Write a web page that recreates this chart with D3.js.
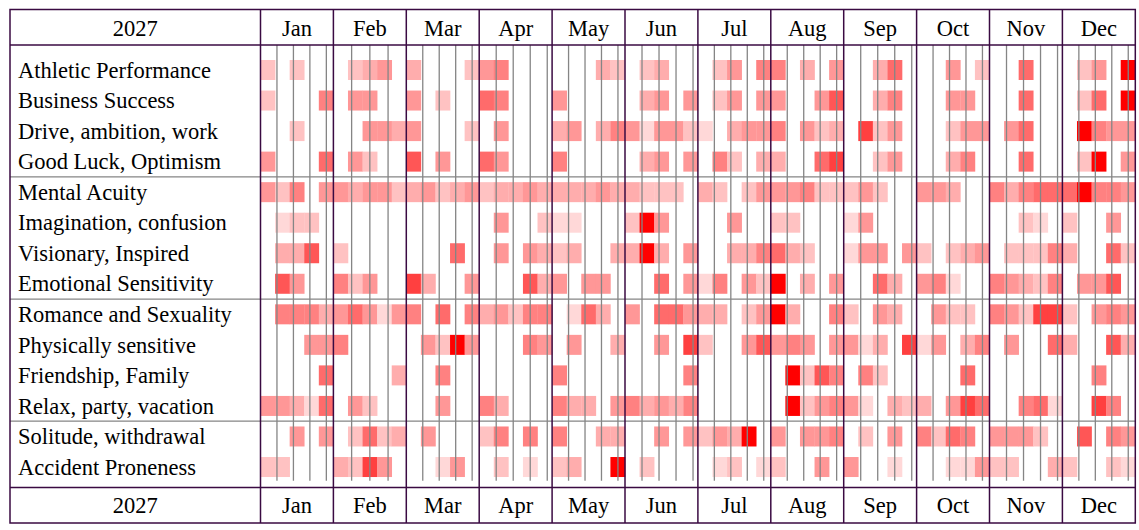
<!DOCTYPE html>
<html>
<head>
<meta charset="utf-8">
<script src="https://cdn.jsdelivr.net/npm/d3@7"></script>
<style>
  body { margin: 0; background: white; }
  svg { display: block; }
</style>
</head>
<body>
<script>
/* DATA */

var year = 2027;
var months = ['Jan', 'Feb', 'Mar', 'Apr', 'May', 'Jun', 'Jul', 'Aug', 'Sep', 'Oct', 'Nov', 'Dec'];
var categories = [
    'Athletic Performance', 'Business Success', 'Drive, ambition, work', 'Good Luck, Optimism',
    'Mental Acuity', 'Imagination, confusion', 'Visionary, Inspired', 'Emotional Sensitivity',
    'Romance and Sexuality', 'Physically sensitive', 'Friendship, Family', 'Relax, party, vacation',
    'Solitude, withdrawal', 'Accident Proneness'
];
// a separator line is drawn under these rows
var groupEnds = ['Good Luck, Optimism', 'Emotional Sensitivity', 'Relax, party, vacation'];

// intensity 0 (none) .. 9 (strongest), 5 slots per month
var levels = [
    // Athletic Performance
    [2,0,2,0,0, 0,2,3,4,0, 3,0,0,0,2, 4,5,0,0,0, 0,0,0,3,2, 0,2,3,0,0, 0,2,4,0,5, 5,0,3,0,4, 0,0,3,6,0, 0,0,4,0,2, 0,0,6,0,0, 0,2,4,0,9],
    // Business Success
    [2,0,0,0,5, 0,4,4,0,0, 4,0,2,0,0, 6,5,0,0,0, 4,0,0,0,0, 0,3,4,0,4, 0,2,4,0,4, 4,0,0,4,7, 0,0,3,5,0, 0,0,4,4,0, 0,0,6,0,0, 0,2,6,0,9],
    // Drive, ambition, work
    [0,0,2,0,0, 0,0,4,4,3, 4,0,0,0,2, 0,4,0,0,0, 3,4,0,3,5, 4,1,4,4,2, 1,0,3,4,4, 5,0,4,2,3, 0,8,2,4,0, 0,0,2,4,4, 0,4,6,0,0, 0,9,5,4,4],
    // Good Luck, Optimism
    [4,0,0,0,6, 0,4,2,0,0, 7,0,4,0,0, 6,4,0,0,0, 5,0,0,0,0, 0,3,4,0,4, 0,5,2,0,3, 3,0,0,6,8, 0,0,2,4,0, 0,0,3,5,0, 0,0,6,0,0, 0,2,9,0,4],
    // Mental Acuity
    [4,2,5,0,4, 4,3,4,4,2, 3,4,2,3,4, 2,3,3,4,3, 3,3,3,4,3, 3,2,2,2,0, 3,2,0,2,4, 4,4,5,2,2, 2,4,2,0,0, 4,4,3,0,0, 5,3,5,6,6, 6,9,5,5,4],
    // Imagination, confusion
    [0,1,2,2,0, 0,0,0,0,0, 0,0,0,0,0, 0,4,0,0,2, 1,1,0,0,0, 2,9,4,0,0, 0,0,4,0,0, 2,2,0,0,0, 1,4,0,0,0, 0,0,0,0,0, 0,0,2,1,0, 2,0,0,4,0],
    // Visionary, Inspired
    [0,3,3,7,0, 2,0,0,0,0, 0,0,0,6,0, 0,4,0,4,3, 2,3,0,0,3, 3,9,3,0,4, 0,0,3,3,5, 6,3,2,0,0, 1,4,4,0,4, 2,0,2,3,4, 0,2,2,2,5, 3,0,0,6,2],
    // Emotional Sensitivity
    [0,7,4,0,0, 5,2,4,0,0, 8,3,0,0,4, 0,0,0,7,3, 4,0,4,4,0, 0,0,6,0,4, 1,5,0,4,2, 9,0,3,0,4, 0,0,6,3,0, 4,5,1,0,0, 5,4,3,2,5, 0,4,4,7,0],
    // Romance and Sexuality
    [0,5,5,5,3, 4,6,4,1,4, 5,0,6,0,5, 3,4,2,5,5, 0,1,6,3,0, 4,0,6,6,4, 3,3,0,2,4, 9,3,0,0,5, 2,0,4,3,0, 0,4,2,2,0, 5,4,2,8,8, 2,0,4,5,4],
    // Physically sensitive
    [0,0,0,4,4, 5,0,0,0,0, 0,4,2,9,4, 0,0,0,5,4, 0,4,0,0,3, 0,0,4,0,8, 2,0,0,4,7, 4,5,4,0,4, 4,1,3,0,8, 1,4,0,3,5, 0,4,0,0,6, 3,0,0,7,3],
    // Friendship, Family
    [0,0,0,0,6, 0,0,0,0,3, 0,0,5,0,0, 0,0,0,0,0, 5,0,0,0,0, 0,0,0,0,5, 0,0,0,0,0, 0,9,2,7,5, 0,5,2,0,0, 0,0,0,6,0, 0,0,0,0,0, 0,0,5,0,0],
    // Relax, party, vacation
    [4,4,3,1,6, 0,4,2,0,0, 0,0,4,0,0, 5,3,0,0,0, 5,3,3,0,4, 5,3,4,3,5, 0,0,0,0,0, 0,9,2,4,5, 4,1,0,3,2, 3,0,4,8,6, 0,0,5,6,1, 0,0,8,5,0],
    // Solitude, withdrawal
    [0,0,4,0,4, 0,2,6,2,3, 0,4,0,0,0, 2,5,0,5,0, 5,0,0,3,3, 0,0,4,0,4, 2,4,3,9,0, 4,0,4,4,5, 0,2,0,4,0, 5,2,6,5,0, 4,4,4,2,0, 0,7,0,5,4],
    // Accident Proneness
    [2,2,0,0,0, 3,2,8,4,0, 0,0,1,4,0, 0,2,0,1,0, 2,3,0,0,9, 0,2,0,0,0, 0,1,2,0,1, 2,0,0,4,0, 4,0,0,1,0, 0,0,1,1,4, 2,2,0,0,3, 2,0,0,2,1]
];

/* STYLE */

var width = 1139;
var height = 530;
var font = '"Liberation Serif", "Times New Roman", serif';
var fontSize = '22.5px';
var frameColor = '#3a0a42';
var weekColor = '#858585';

// note: "top" is reserved on window, so frame edges get their own names
var frameLeft = 10, frameRight = 1135.3, frameTop = 9.5, frameBottom = 523;
var labelRight = 260.5;
var headerBottom = 45;
var footerTop = 487.5;
var weekLineEnd = 480.7;
var slotsPerMonth = 5;

/* SCALES */

var x = d3.scaleBand()
    .domain(months)
    .range([labelRight, frameRight]);

var slot = d3.scaleBand()
    .domain(d3.range(slotsPerMonth))
    .range([0, x.bandwidth()]);

var y = d3.scaleBand()
    .domain(categories)
    .range([54.73, 54.73 + 30.54 * categories.length])
    .paddingInner(0.345)
    .paddingOuter(0.1725);

var color = d3.scaleLinear()
    .domain([1, 8, 9])
    .range(['#ffd8d8', '#ff4040', '#ff0000'])
    .clamp(true);

var daysIn = months.map((m, i) => d3.timeDay.count(new Date(year, i, 1), new Date(year, i + 1, 1)));

/* DRAW */

var svg = d3.select('body').append('svg')
    .attr('width', width)
    .attr('height', height);

svg.append('rect')
    .attr('width', width)
    .attr('height', height)
    .attr('fill', 'white');

// cells
var cells = [];
levels.forEach((row, r) => {
    row.forEach((v, c) => {
        if (v > 0) cells.push({cat: categories[r], month: months[Math.floor(c / slotsPerMonth)], slot: c % slotsPerMonth, v: v});
    });
});

svg.append('g').attr('class', 'cells')
  .selectAll('rect')
  .data(cells)
  .join('rect')
    .attr('x', d => x(d.month) + slot(d.slot))
    .attr('y', d => y(d.cat))
    .attr('width', slot.bandwidth() + 0.3)
    .attr('height', y.bandwidth())
    .attr('fill', d => color(d.v));

// week lines (days 8, 15, 22, 29 of each month)
var weeks = [];
months.forEach((m, i) => {
    var day = d3.scaleLinear().domain([1, daysIn[i] + 1]).range([x(m), x(m) + x.bandwidth()]);
    for (var d = 8; d <= daysIn[i]; d += 7) weeks.push(day(d));
});

svg.append('g').attr('class', 'weeks')
  .selectAll('line')
  .data(weeks)
  .join('line')
    .attr('x1', d => d).attr('x2', d => d)
    .attr('y1', headerBottom).attr('y2', weekLineEnd)
    .attr('stroke', weekColor)
    .attr('stroke-width', 1.3);

// group separators
var sepY = cat => y(cat) + y.bandwidth() + (y.step() - y.bandwidth()) / 2;
svg.append('g').attr('class', 'groups')
  .selectAll('line')
  .data(groupEnds)
  .join('line')
    .attr('x1', frameLeft).attr('x2', frameRight)
    .attr('y1', sepY).attr('y2', sepY)
    .attr('stroke', weekColor)
    .attr('stroke-width', 1.3);

// frame
var frame = svg.append('g').attr('class', 'frame')
    .attr('stroke', frameColor)
    .attr('stroke-width', 1.5)
    .attr('fill', 'none');

frame.append('rect')
    .attr('x', frameLeft).attr('y', frameTop)
    .attr('width', frameRight - frameLeft).attr('height', frameBottom - frameTop);

frame.selectAll('line.h')
  .data([headerBottom, footerTop])
  .join('line')
    .attr('class', 'h')
    .attr('x1', frameLeft).attr('x2', frameRight)
    .attr('y1', d => d).attr('y2', d => d);

frame.selectAll('line.v')
  .data(months)
  .join('line')
    .attr('class', 'v')
    .attr('x1', d => x(d)).attr('x2', d => x(d))
    .attr('y1', frameTop).attr('y2', frameBottom);

// texts
var text = svg.append('g').attr('class', 'texts')
    .style('font-family', font)
    .style('font-size', fontSize)
    .attr('fill', 'black');

[35.8, 512.7].forEach(base => {
    text.append('text')
        .attr('x', (frameLeft + labelRight) / 2)
        .attr('y', base)
        .attr('text-anchor', 'middle')
        .text(year);

    text.append('g')
      .selectAll('text')
      .data(months)
      .join('text')
        .attr('x', d => x(d) + x.bandwidth() / 2)
        .attr('y', base)
        .attr('text-anchor', 'middle')
        .text(d => d);
});

text.append('g')
  .selectAll('text')
  .data(categories)
  .join('text')
    .attr('x', 18)
    .attr('y', d => y(d) + 17.7)
    .text(d => d);
</script>
</body>
</html>
